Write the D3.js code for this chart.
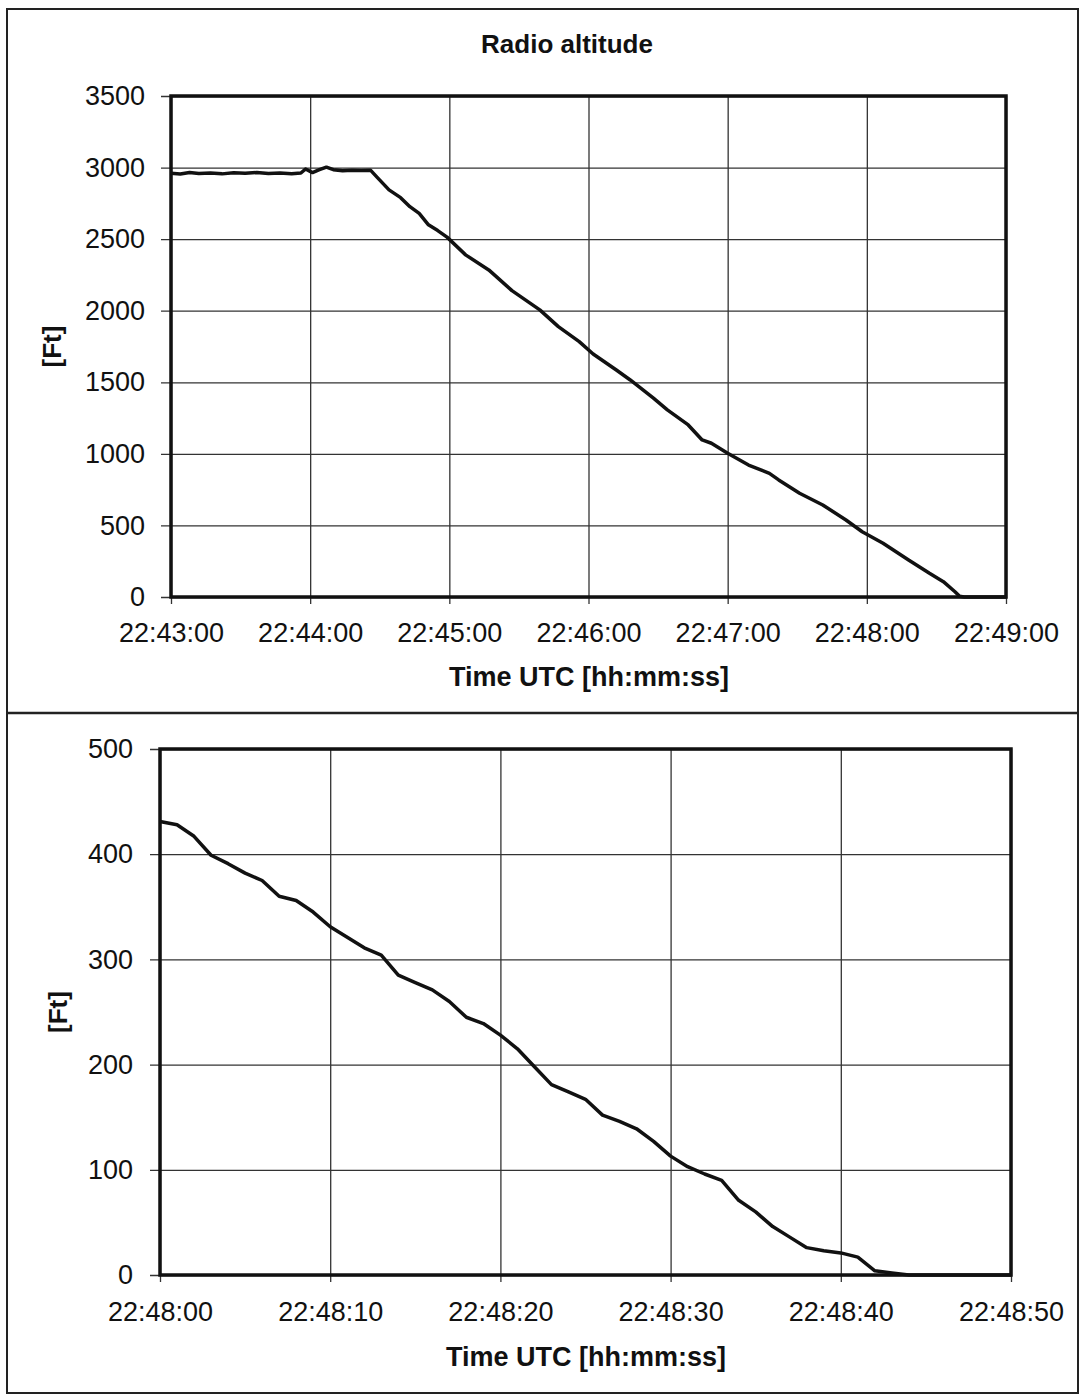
<!DOCTYPE html>
<html>
<head>
<meta charset="utf-8">
<script src="https://cdn.jsdelivr.net/npm/d3@7"></script>
<style>
  body { margin: 0; background: #fff; }
  svg { display: block; font-family: "Liberation Sans", Arial, sans-serif; }
</style>
</head>
<body>
<svg id="chart" width="1080" height="1394"></svg>
<script>
// radio altitude, whole approach (top panel)
const topTimes = ["22:43:00","22:43:04","22:43:08","22:43:12","22:43:17","22:43:22","22:43:27","22:43:32",
  "22:43:37","22:43:42","22:43:47","22:43:52","22:43:56","22:43:58","22:44:01","22:44:04","22:44:07",
  "22:44:10","22:44:14","22:44:18","22:44:22","22:44:26","22:44:29","22:44:34","22:44:39","22:44:43",
  "22:44:47","22:44:51","22:44:55","22:44:59","22:45:07","22:45:17","22:45:27","22:45:39","22:45:47",
  "22:45:56","22:46:02","22:46:12","22:46:18","22:46:28","22:46:34","22:46:43","22:46:49","22:46:53",
  "22:47:00","22:47:09","22:47:18","22:47:22","22:47:31","22:47:41","22:47:51","22:47:58","22:48:07",
  "22:48:18","22:48:27","22:48:33","22:48:38","22:48:40","22:48:42","22:49:00"];
const topAlt = [2960,2955,2965,2958,2962,2956,2964,2960,
  2966,2958,2962,2957,2962,2990,2965,2985,3003,
  2985,2978,2982,2980,2982,2930,2844,2790,2727,
  2680,2600,2560,2514,2390,2285,2140,2006,1889,
  1784,1698,1586,1516,1389,1307,1202,1097,1074,
  1004,922,864,818,725,643,538,456,375,
  259,166,107,37,5,0,0];
const topXTicks = ["22:43:00","22:44:00","22:45:00","22:46:00","22:47:00","22:48:00","22:49:00"];
const topYTicks = [0,500,1000,1500,2000,2500,3000,3500];

// last minute zoom (bottom panel), one sample per second
const botTimes = ["22:48:00","22:48:01","22:48:02","22:48:03","22:48:04","22:48:05","22:48:06","22:48:07",
  "22:48:08","22:48:09","22:48:10","22:48:11","22:48:12","22:48:13","22:48:14","22:48:15","22:48:16",
  "22:48:17","22:48:18","22:48:19","22:48:20","22:48:21","22:48:22","22:48:23","22:48:24","22:48:25",
  "22:48:26","22:48:27","22:48:28","22:48:29","22:48:30","22:48:31","22:48:32","22:48:33","22:48:34",
  "22:48:35","22:48:36","22:48:37","22:48:38","22:48:39","22:48:40","22:48:41","22:48:42","22:48:43",
  "22:48:44","22:48:45","22:48:46","22:48:47","22:48:48","22:48:49","22:48:50"];
const botAlt = [431,428,417,399,391,382,375,360,
  356,345,331,321,311,304,285,278,271,
  260,245,239,228,215,198,181,174,167,
  152,146,139,127,113,103,96,90,71,
  60,46,36,26,23,21,17,4,2,
  0,0,0,0,0,0,0];
const botXTicks = ["22:48:00","22:48:10","22:48:20","22:48:30","22:48:40","22:48:50"];
const botYTicks = [0,100,200,300,400,500];

const parse = d3.timeParse("%H:%M:%S");
const fmt = d3.timeFormat("%H:%M:%S");
const svg = d3.select("#chart");

// outer frame and divider
svg.append("rect").attr("x", 7).attr("y", 9).attr("width", 1071).attr("height", 1384)
  .attr("fill", "none").attr("stroke", "#222").attr("stroke-width", 2);
svg.append("line").attr("x1", 7).attr("x2", 1078).attr("y1", 713).attr("y2", 713)
  .attr("stroke", "#222").attr("stroke-width", 2.5);

function drawPanel(opt) {
  const x = d3.scaleTime()
    .domain([parse(opt.xTicks[0]), parse(opt.xTicks[opt.xTicks.length - 1])])
    .range([opt.left, opt.right]);
  const y = d3.scaleLinear()
    .domain([0, opt.yTicks[opt.yTicks.length - 1]])
    .range([opt.bottom, opt.top]);

  const g = svg.append("g");

  // horizontal grid (with outer ticks)
  g.append("g")
    .attr("transform", `translate(${opt.left},0)`)
    .call(d3.axisLeft(y).tickValues(opt.yTicks).tickFormat(d3.format("d"))
      .tickSize(-(opt.right - opt.left)).tickSizeOuter(0).tickPadding(opt.yPad))
    .call(a => a.select(".domain").remove())
    .call(a => a.selectAll(".tick line").attr("x1", -10).attr("stroke", "#333").attr("stroke-width", 1.3))
    .call(a => a.selectAll(".tick text").attr("font-size", 27).attr("fill", "#111")
      .attr("font-family", "Liberation Sans, Arial, sans-serif"));

  // vertical grid (with small ticks below)
  g.append("g")
    .attr("transform", `translate(0,${opt.bottom})`)
    .call(d3.axisBottom(x).tickValues(opt.xTicks.map(parse)).tickFormat(fmt)
      .tickSize(-(opt.bottom - opt.top)).tickSizeOuter(0).tickPadding(opt.xPad))
    .call(a => a.select(".domain").remove())
    .call(a => a.selectAll(".tick line").attr("y1", 7).attr("stroke", "#333").attr("stroke-width", 1.3))
    .call(a => a.selectAll(".tick text").attr("font-size", 27).attr("fill", "#111")
      .attr("font-family", "Liberation Sans, Arial, sans-serif"));

  // plot frame
  g.append("rect")
    .attr("x", opt.left).attr("y", opt.top)
    .attr("width", opt.right - opt.left).attr("height", opt.bottom - opt.top)
    .attr("fill", "none").attr("stroke", "#111").attr("stroke-width", 3.5);

  const data = opt.times.map((t, i) => ({ t: parse(t), v: opt.values[i] }));
  g.append("path")
    .datum(data)
    .attr("fill", "none")
    .attr("stroke", "#111")
    .attr("stroke-width", opt.lineWidth)
    .attr("stroke-linejoin", "round")
    .attr("d", d3.line().x(d => x(d.t)).y(d => y(d.v)));

  if (opt.title) {
    g.append("text").attr("x", 567).attr("y", 53)
      .attr("text-anchor", "middle").attr("font-size", 26).attr("font-weight", "bold")
      .attr("fill", "#111").text(opt.title);
  }
  g.append("text").attr("x", opt.xTitleX).attr("y", opt.xTitleY)
    .attr("text-anchor", "middle").attr("font-size", 27).attr("font-weight", "bold")
    .attr("fill", "#111").text("Time UTC [hh:mm:ss]");
  g.append("text")
    .attr("transform", `translate(${opt.yTitleX},${(opt.top + opt.bottom) / 2}) rotate(-90)`)
    .attr("text-anchor", "middle").attr("font-size", 26).attr("font-weight", "bold")
    .attr("fill", "#111").text("[Ft]");
}

drawPanel({
  times: topTimes, values: topAlt, xTicks: topXTicks, yTicks: topYTicks,
  left: 171, right: 1006, top: 96, bottom: 597, xPad: 26, yPad: 26, lineWidth: 3.5,
  title: "Radio altitude", xTitleX: 589, xTitleY: 686, yTitleX: 61
});

drawPanel({
  times: botTimes, values: botAlt, xTicks: botXTicks, yTicks: botYTicks,
  left: 160, right: 1011, top: 749, bottom: 1275, xPad: 27, yPad: 27, lineWidth: 3.5,
  title: null, xTitleX: 586, xTitleY: 1366, yTitleX: 67
});
</script>
</body>
</html>
